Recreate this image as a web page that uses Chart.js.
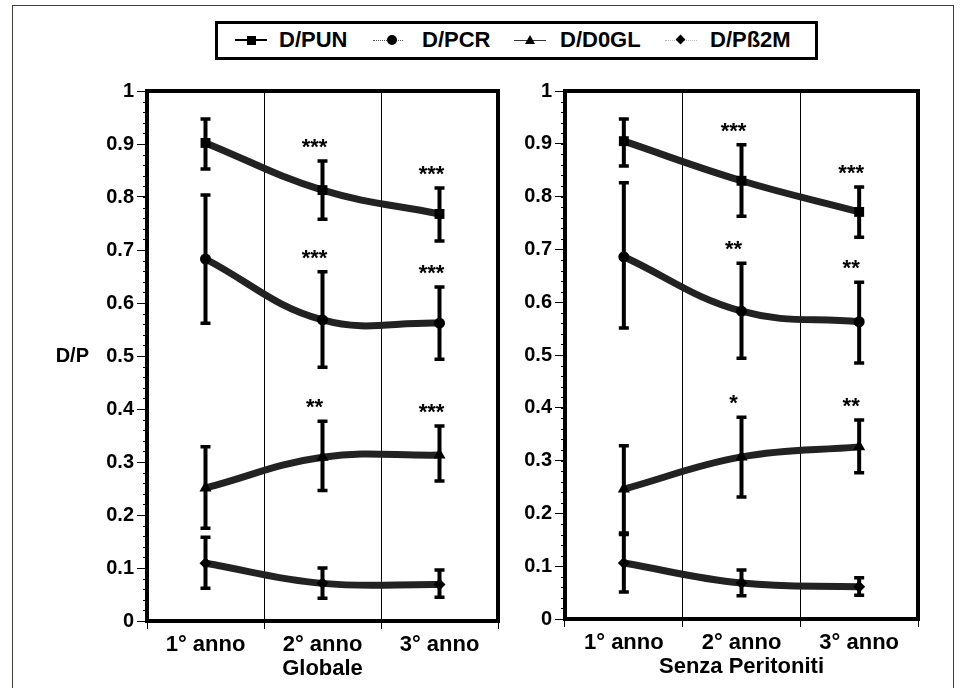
<!DOCTYPE html>
<html><head><meta charset="utf-8">
<script src="https://cdn.jsdelivr.net/npm/chart.js@4.4.1/dist/chart.umd.min.js"></script>
<style>
html,body{margin:0;padding:0;background:#fff;}
body{width:961px;height:688px;position:relative;overflow:hidden;font-family:'Liberation Sans',Arial,sans-serif;}
#frame{position:absolute;left:12px;top:5px;width:942px;height:700px;border:1.5px solid #3c4136;box-sizing:border-box;}
#legend{position:absolute;left:215px;top:21px;width:603px;height:39px;border:3px solid #000;box-sizing:border-box;}
.lbl{position:absolute;top:3px;font:bold 22px 'Liberation Sans',Arial,sans-serif;white-space:nowrap;line-height:26px;color:#000}
.ln{position:absolute;height:0;}
.mk{position:absolute;}
canvas{position:absolute;top:0;}
</style>
</head><body>
<div id="frame"></div>
<div id="legend">
  <div class="ln" style="left:17px;top:15px;width:32px;border-top:2px solid #000"></div>
  <div class="mk" style="left:29px;top:12px;width:9px;height:9px;background:#000"></div>
  <div class="lbl" style="left:61px">D/PUN</div>

  <div class="ln" style="left:155px;top:16px;width:30px;border-top:1px dotted #555"></div>
  <div class="mk" style="left:169px;top:11px;width:10px;height:10px;border-radius:50%;background:#000"></div>
  <div class="lbl" style="left:204px">D/PCR</div>

  <div class="ln" style="left:296px;top:16px;width:32px;border-top:1px solid #333"></div>
  <div class="mk" style="left:307px;top:11px;width:0;height:0;border-left:5px solid transparent;border-right:5px solid transparent;border-bottom:9px solid #000"></div>
  <div class="lbl" style="left:342px">D/D0GL</div>

  <div class="ln" style="left:447px;top:16px;width:32px;border-top:1px dotted #bbb"></div>
  <div class="mk" style="left:459px;top:12px;width:7px;height:7px;background:#000;transform:rotate(45deg)"></div>
  <div class="lbl" style="left:492px">D/Pß2M</div>
</div>
<canvas id="c1" width="505" height="688" style="left:0"></canvas>
<canvas id="c2" width="456" height="688" style="left:505px"></canvas>
<script>
// ---------- data ----------
const categories = ['1° anno', '2° anno', '3° anno'];
const seriesNames = ['D/PUN', 'D/PCR', 'D/D0GL', 'D/Pß2M'];
const yTickMin = 0, yTickMax = 1, yTickStep = 0.1, yMinorStep = 0.02;

// Globale
const globPUN      = [0.902, 0.813, 0.768];
const globPUNUp    = [0.947, 0.868, 0.817];
const globPUNLow   = [0.853, 0.758, 0.717];
const globPCR      = [0.683, 0.568, 0.562];
const globPCRUp    = [0.804, 0.659, 0.630];
const globPCRLow   = [0.562, 0.479, 0.494];
const globD0GL     = [0.251, 0.309, 0.313];
const globD0GLUp   = [0.329, 0.377, 0.368];
const globD0GLLow  = [0.175, 0.246, 0.264];
const globB2M      = [0.109, 0.071, 0.069];
const globB2MUp    = [0.158, 0.100, 0.096];
const globB2MLow   = [0.062, 0.043, 0.045];
const globStarsPUN  = ['', '***', '***'];
const globStarsPCR  = ['', '***', '***'];
const globStarsD0GL = ['', '**', '***'];
const globStarsB2M  = ['', '', ''];

// Senza Peritoniti
const senzPUN      = [0.905, 0.830, 0.771];
const senzPUNUp    = [0.947, 0.898, 0.818];
const senzPUNLow   = [0.858, 0.763, 0.723];
const senzPCR      = [0.686, 0.583, 0.563];
const senzPCRUp    = [0.826, 0.674, 0.638];
const senzPCRLow   = [0.551, 0.494, 0.485];
const senzD0GL     = [0.246, 0.307, 0.326];
const senzD0GLUp   = [0.328, 0.382, 0.377];
const senzD0GLLow  = [0.163, 0.231, 0.277];
const senzB2M      = [0.106, 0.068, 0.061];
const senzB2MUp    = [0.160, 0.093, 0.078];
const senzB2MLow   = [0.051, 0.044, 0.045];
const senzStarsPUN  = ['', '***', '***'];
const senzStarsPCR  = ['', '**', '**'];
const senzStarsD0GL = ['', '*', '**'];
const senzStarsB2M  = ['', '', ''];

// ---------- rendering ----------
const FONT = "'Liberation Sans', Arial, sans-serif";
Chart.defaults.font.family = FONT;
Chart.defaults.color = '#000';

const pointStyles = ['rect', 'circle', 'triangle', 'rectRot'];
const pointRadii = [7, 5.5, 7, 6];

function makeDatasets(vals, ups, lows, stars) {
  return vals.map((v, i) => ({
    label: seriesNames[i],
    data: v,
    errUp: ups[i],
    errLow: lows[i],
    stars: stars[i],
    borderColor: '#222',
    borderWidth: 7,
    tension: 0.4,
    fill: false,
    pointStyle: pointStyles[i],
    pointRadius: pointRadii[i],
    pointBackgroundColor: '#000',
    pointBorderColor: '#000',
    pointBorderWidth: 0
  }));
}

const decor = {
  id: 'decor',
  beforeDatasetsDraw(chart, args, opts) {
    const {ctx, chartArea: a} = chart;
    const y = chart.scales.y;
    ctx.save();
    ctx.strokeStyle = '#000';
    ctx.lineWidth = 1;
    const n = Math.round((yTickMax - yTickMin) / yMinorStep);
    for (let k = 0; k <= n; k++) {
      const py = Math.round(y.getPixelForValue(yTickMin + k * yMinorStep)) + 0.5;
      ctx.beginPath(); ctx.moveTo(a.left - 4, py); ctx.lineTo(a.left, py); ctx.stroke();
    }
    ctx.lineWidth = 4;
    ctx.strokeRect(a.left, a.top, a.right - a.left, a.bottom - a.top);
    if (opts.yTitle) {
      ctx.font = 'bold 20px ' + FONT;
      ctx.fillStyle = '#000';
      ctx.textAlign = 'right';
      ctx.textBaseline = 'middle';
      ctx.fillText(opts.yTitle, opts.yTitleRight, y.getPixelForValue(opts.yTitleValue));
    }
    ctx.restore();
  },
  afterDatasetsDraw(chart) {
    const {ctx} = chart;
    const y = chart.scales.y;
    ctx.save();
    ctx.strokeStyle = '#000';
    ctx.fillStyle = '#000';
    chart.data.datasets.forEach((ds, di) => {
      const meta = chart.getDatasetMeta(di);
      meta.data.forEach((pt, i) => {
        const x = pt.x;
        const yu = y.getPixelForValue(ds.errUp[i]);
        const yl = y.getPixelForValue(ds.errLow[i]);
        ctx.lineWidth = 4;
        ctx.beginPath(); ctx.moveTo(x, yu); ctx.lineTo(x, yl); ctx.stroke();
        ctx.lineWidth = 3.5;
        ctx.beginPath();
        ctx.moveTo(x - 5, yu); ctx.lineTo(x + 5, yu);
        ctx.moveTo(x - 5, yl); ctx.lineTo(x + 5, yl);
        ctx.stroke();
        const s = ds.stars[i];
        if (s) {
          ctx.font = 'bold 22px ' + FONT;
          ctx.textAlign = 'center';
          ctx.textBaseline = 'middle';
          ctx.fillText(s, x - 8, yu - 13);
        }
      });
    });
    ctx.restore();
  }
};

function makeChart(id, datasets, title, yWidth, padRight, xHeight, padBottom, decorOpts) {
  return new Chart(document.getElementById(id), {
    type: 'line',
    data: {labels: categories, datasets},
    options: {
      responsive: false,
      animation: false,
      layout: {padding: {top: 91, left: 0, right: padRight, bottom: padBottom}},
      plugins: {legend: {display: false}, tooltip: {enabled: false}, decor: decorOpts},
      scales: {
        x: {
          type: 'category',
          offset: true,
          grid: {offset: true, display: true, drawOnChartArea: true, color: '#000', lineWidth: 1, tickLength: 8, tickColor: '#000'},
          border: {display: true, color: '#000', width: 1},
          ticks: {font: {size: 22, weight: 'bold'}, padding: 3, color: '#000', maxRotation: 0},
          title: {display: true, text: title, font: {size: 22, weight: 'bold'}, color: '#000', padding: 0},
          afterFit: s => { s.height = xHeight; }
        },
        y: {
          min: yTickMin, max: yTickMax,
          grid: {drawOnChartArea: false, color: '#000', lineWidth: 1, tickLength: 10, tickColor: '#000'},
          border: {display: true, color: '#000', width: 1},
          ticks: {stepSize: yTickStep, font: {size: 20, weight: 'bold'}, padding: 3, color: '#000',
                  callback: v => String(Math.round(v * 10) / 10)},
          afterFit: s => { s.width = yWidth; }
        }
      }
    },
    plugins: [decor]
  });
}

makeChart('c1',
  makeDatasets([globPUN, globPCR, globD0GL, globB2M],
               [globPUNUp, globPCRUp, globD0GLUp, globB2MUp],
               [globPUNLow, globPCRLow, globD0GLLow, globB2MLow],
               [globStarsPUN, globStarsPCR, globStarsD0GL, globStarsB2M]),
  'Globale', 147, 7, 61, 6, {yTitle: 'D/P', yTitleValue: 0.5, yTitleRight: 89});

makeChart('c2',
  makeDatasets([senzPUN, senzPCR, senzD0GL, senzB2M],
               [senzPUNUp, senzPCRUp, senzD0GLUp, senzB2MUp],
               [senzPUNLow, senzPCRLow, senzD0GLLow, senzB2MLow],
               [senzStarsPUN, senzStarsPCR, senzStarsD0GL, senzStarsB2M]),
  'Senza Peritoniti', 60, 43, 61, 8, {});
</script>
</body></html>
